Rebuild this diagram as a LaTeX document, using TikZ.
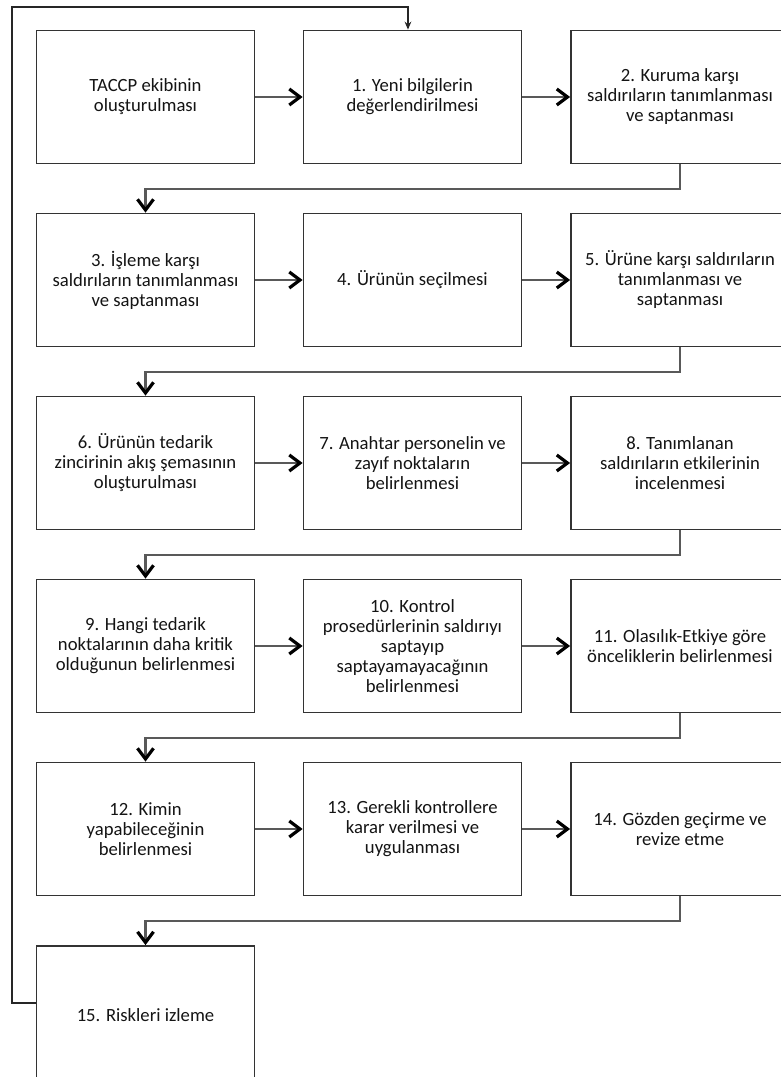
\documentclass[tikz,border=0pt]{standalone}
\usepackage{fontspec}
\setmainfont{Carlito}
\usetikzlibrary{arrows.meta}

\tikzset{every picture/.style={line width=0.75pt}}
\tikzset{
  kutu/.style={draw=black!80, line width=1.3pt, fill=white, minimum width=163.5pt, minimum height=99.75pt, inner sep=0pt, align=center, text=black!92, font=\fontsize{14}{15}\selectfont},
  ok/.style={draw=black!65, line width=1.6pt, -{Straight Barb[length=8pt,width=12pt,line width=2.4pt,color=black]}},
  donus/.style={draw=black!85, line width=1.2pt, -{Stealth[length=6pt,width=5pt]}}
}

\begin{document}
\begin{tikzpicture}[x=0.75pt,y=0.75pt,yscale=-1,xscale=1]
\clip (0,0) rectangle (781,1077);
%Row 1
\draw (145.5,97) node [kutu] (b0) {TACCP ekibinin\\oluşturulması};
\draw (412.5,97) node [kutu] (b1) {1. Yeni bilgilerin\\değerlendirilmesi};
\draw (680,97) node [kutu] (b2) {2. Kuruma karşı\\saldırıların tanımlanması\\ve saptanması};
%Row 2
\draw (145.5,280) node [kutu] (b3) {3. İşleme karşı\\saldırıların tanımlanması\\ve saptanması};
\draw (412.5,280) node [kutu] (b4) {4. Ürünün seçilmesi};
\draw (680,280) node [kutu] (b5) {5. Ürüne karşı saldırıların\\tanımlanması ve\\saptanması};
%Row 3
\draw (145.5,463) node [kutu] (b6) {6. Ürünün tedarik\\zincirinin akış şemasının\\oluşturulması};
\draw (412.5,463) node [kutu] (b7) {7. Anahtar personelin ve\\zayıf noktaların\\belirlenmesi};
\draw (680,463) node [kutu] (b8) {8. Tanımlanan\\saldırıların etkilerinin\\incelenmesi};
%Row 4
\draw (145.5,646) node [kutu] (b9) {9. Hangi tedarik\\noktalarının daha kritik\\olduğunun belirlenmesi};
\draw (412.5,646) node [kutu] (b10) {10. Kontrol\\prosedürlerinin saldırıyı\\saptayıp\\saptayamayacağının\\belirlenmesi};
\draw (680,646) node [kutu] (b11) {11. Olasılık-Etkiye göre\\önceliklerin belirlenmesi};
%Row 5
\draw (145.5,829) node [kutu] (b12) {12. Kimin\\yapabileceğinin\\belirlenmesi};
\draw (412.5,829) node [kutu] (b13) {13. Gerekli kontrollere\\karar verilmesi ve\\uygulanması};
\draw (680,829) node [kutu] (b14) {14. Gözden geçirme ve\\revize etme};
%Row 6
\draw (145.5,1015) node [kutu, minimum height=103.5pt] (b15) {15. Riskleri izleme};
%Straight Lines
\draw [ok] (b0) -- (b1);
\draw [ok] (b1) -- (b2);
\draw [ok] (b3) -- (b4);
\draw [ok] (b4) -- (b5);
\draw [ok] (b6) -- (b7);
\draw [ok] (b7) -- (b8);
\draw [ok] (b9) -- (b10);
\draw [ok] (b10) -- (b11);
\draw [ok] (b12) -- (b13);
\draw [ok] (b13) -- (b14);
%Row to row
\draw [ok] (b2.south) -- ++(0,25) -| (b3.north);
\draw [ok] (b5.south) -- ++(0,25) -| (b6.north);
\draw [ok] (b8.south) -- ++(0,25) -| (b9.north);
\draw [ok] (b11.south) -- ++(0,25) -| (b12.north);
\draw [ok] (b14.south) -- ++(0,25) -| (b15.north);
%Loop back
\coordinate (sol) at (12,7);
\draw [donus] ([yshift=-9pt]b15.west) -| (sol) -| ([xshift=-3.4pt]b1.north);
\end{tikzpicture}
\end{document}
